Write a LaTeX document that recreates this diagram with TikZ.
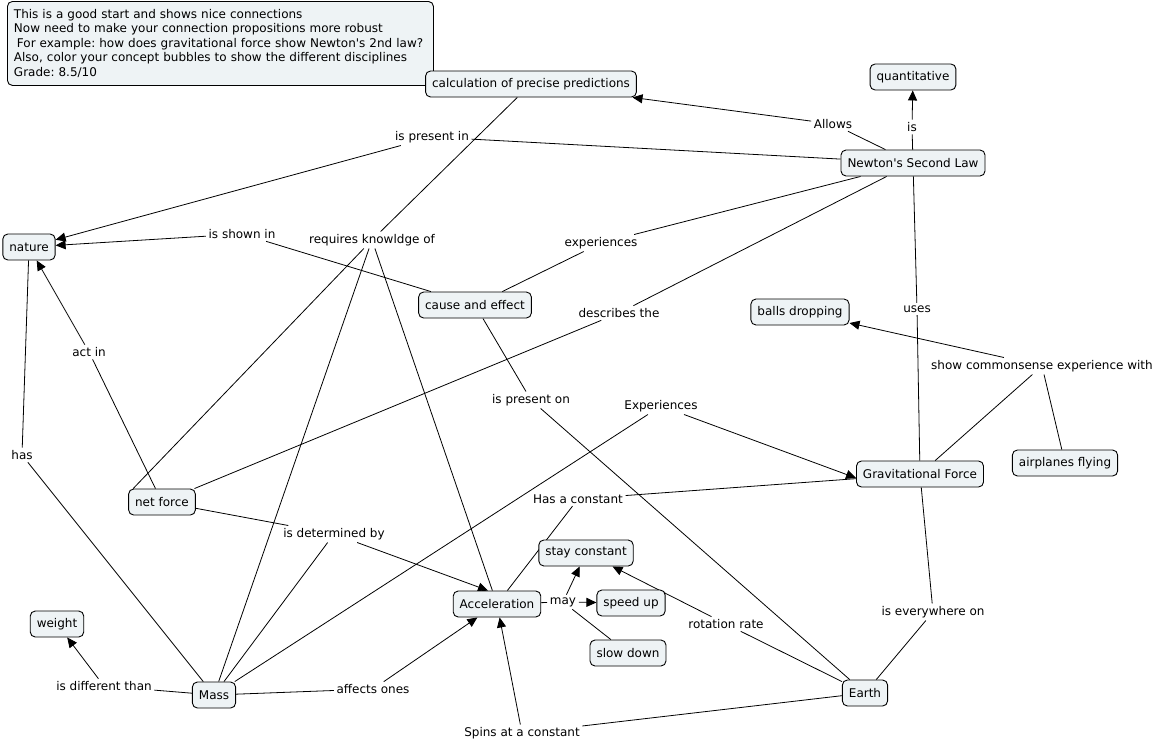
\documentclass[tikz,border=0pt]{standalone}
\usepackage{fontspec}
\setmainfont[Ligatures=TeXOff]{DejaVu Sans}
\usetikzlibrary{arrows.meta}
\definecolor{nodefill}{RGB}{238,243,245}
\pgfdeclarelayer{edges}
\pgfdeclarelayer{bg}
\pgfsetlayers{bg,edges,main}
\frenchspacing
\begin{document}
\begin{tikzpicture}[x=1pt,y=-1pt,
 concept/.style={draw=black, line width=0.9pt, rounded corners=5pt, fill=nodefill, minimum height=26pt, inner xsep=6.5pt, font=\fontsize{12}{14}\selectfont},
 lbl/.style={inner sep=2.5pt, font=\fontsize{12}{14}\selectfont},
 link/.style={line width=0.8pt},
 arr/.style={link, -{Triangle[length=10pt,width=9pt]}}]
\useasboundingbox (0,0) rectangle (1156,744);
\begin{pgfonlayer}{bg}
\fill[white] (0,0) rectangle (1156,744);
\end{pgfonlayer}

% comment box
\node[concept, anchor=north west, text width=413pt, minimum height=84pt, align=left, inner ysep=3pt, font=\fontsize{12}{14.5}\selectfont] (comment) at (7,1)
 {This is a good start and shows nice connections\\
 Now need to make your connection propositions more robust\\
 \hspace*{3pt}For example: how does gravitational force show Newton's 2nd law?\\
 Also, color your concept bubbles to show the different disciplines\\
 Grade: 8.5/10};

% concepts
\node[concept] (calc) at (531,84) {calculation of precise predictions};
\node[concept] (quant) at (913,77) {quantitative};
\node[concept] (newton) at (913,163) {Newton's Second Law};
\node[concept] (nature) at (29,247) {nature};
\node[concept] (cause) at (475,305) {cause and effect};
\node[concept] (balls) at (800,312) {balls dropping};
\node[concept] (planes) at (1065,463) {airplanes flying};
\node[concept] (grav) at (920,474) {Gravitational Force};
\node[concept] (net) at (162,502) {net force};
\node[concept] (stay) at (586,553) {stay constant};
\node[concept] (acc) at (497,604) {Acceleration};
\node[concept] (speed) at (631,603) {speed up};
\node[concept] (slow) at (628,653) {slow down};
\node[concept] (weight) at (57,624) {weight};
\node[concept] (mass) at (214,695) {Mass};
\node[concept] (earth) at (865,693) {Earth};

% linking phrases
\node[lbl] (lpresentin) at (432,137) {is present in};
\node[lbl] (lallows) at (833,124) {Allows};
\node[lbl] (lis) at (912,127) {is};
\node[lbl] (lshown) at (242,234) {is shown in};
\node[lbl] (lreq) at (372,240) {requires knowldge of};
\node[lbl] (lexp) at (601,243) {experiences};
\node[lbl] (ldesc) at (619,313) {describes the};
\node[lbl] (luses) at (917,309) {uses};
\node[lbl] (lshow) at (1042,366) {show commonsense experience with};
\node[lbl] (lact) at (89,352) {act in};
\node[lbl] (lpreson) at (531,400) {is present on};
\node[lbl] (lExp) at (661,406) {Experiences};
\node[lbl] (lhas) at (22,455) {has};
\node[lbl] (lconst) at (578,499) {Has a constant};
\node[lbl] (ldet) at (334,534) {is determined by};
\node[lbl] (lmay) at (563,602) {may};
\node[lbl] (lrot) at (726,624) {rotation rate};
\node[lbl] (lever) at (933,612) {is everywhere on};
\node[lbl] (ldiff) at (104,686) {is different than};
\node[lbl] (laff) at (373,689) {affects ones};
\node[lbl] (lspins) at (522,733) {Spins at a constant};

\begin{pgfonlayer}{edges}
\draw[link] (newton) -- (lallows); \draw[arr] (lallows) -- (calc);
\draw[link] (newton) -- (lis); \draw[arr] (lis) -- (quant);
\draw[link] (newton) -- (lpresentin); \draw[arr] (lpresentin) -- (nature);
\draw[link] (newton) -- (lexp); \draw[link] (lexp) -- (cause);
\draw[link] (newton) -- (ldesc); \draw[link] (ldesc) -- (net);
\draw[link] (newton) -- (luses); \draw[link] (luses) -- (grav);
\draw[link] (calc) -- (lreq);
\draw[link] (lreq) -- ([xshift=5pt]net.north west);
\draw[link] (lreq) -- (mass);
\draw[link] (lreq) -- (acc);
\draw[link] (cause) -- (lshown); \draw[arr] (lshown) -- (nature);
\draw[link] (cause) -- (lpreson); \draw[link] (lpreson) -- (earth);
\draw[link] (grav) -- (lshow); \draw[arr] (lshow) -- (balls); \draw[link] (lshow) -- (planes);
\draw[link] (mass) -- (lExp); \draw[arr] (lExp) -- ([yshift=-4pt]grav.west);
\draw[link] (grav) -- (lconst); \draw[link] (lconst) -- (acc);
\draw[link] (net) -- (ldet); \draw[link] (mass) -- (ldet); \draw[arr] (ldet) -- ([xshift=-9pt]acc.north);
\draw[link] (net) -- (lact); \draw[arr] (lact) -- (nature);
\draw[link] (nature) -- (lhas); \draw[link] (lhas) -- (mass);
\draw[link] (mass) -- (ldiff); \draw[arr] (ldiff) -- (weight);
\draw[link] (mass) -- (laff); \draw[arr] (laff) -- (acc);
\draw[link] (acc) -- (lmay); \draw[arr] (lmay) -- (speed); \draw[arr] (lmay) -- (stay); \draw[link] (lmay) -- (slow);
\draw[link] (earth) -- (lrot); \draw[arr] (lrot) -- (stay);
\draw[link] (grav) -- (lever); \draw[link] (lever) -- (earth);
\draw[link] (earth) -- (lspins); \draw[arr] (lspins) -- (acc);
\end{pgfonlayer}
\end{tikzpicture}
\end{document}
